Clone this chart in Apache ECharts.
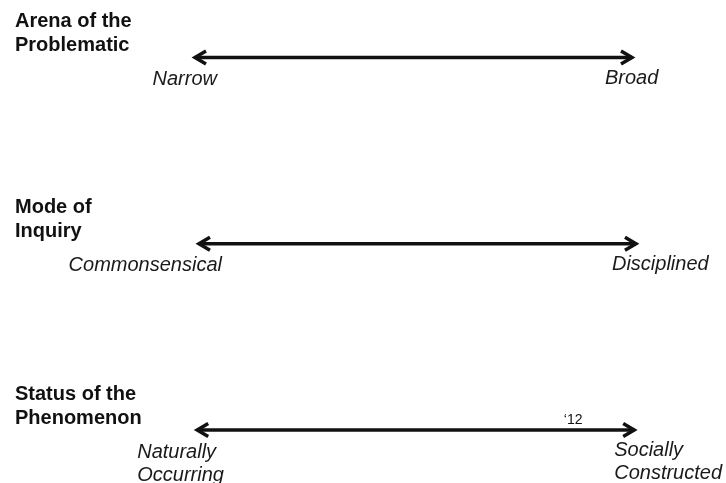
<!DOCTYPE html>
<html>
<head>
<meta charset="utf-8">
<script src="https://cdn.jsdelivr.net/npm/echarts@6/dist/echarts.min.js"></script>
<style>
  html, body { margin: 0; padding: 0; background: #ffffff; }
  #chart { width: 726px; height: 483px; }
</style>
</head>
<body>
<div id="chart"></div>
<script>
// ---- data ----
const rowTitles = ['Arena of the\nProblematic', 'Mode of\nInquiry', 'Status of the\nPhenomenon'];
const leftPoles = ['Narrow', 'Commonsensical', 'Naturally\nOccurring'];
const rightPoles = ['Broad', 'Disciplined', 'Socially\nConstructed'];
const arrowStart = [0, 0.9, 0.5];
const arrowEnd = [100, 100.9, 100.5];
const notes = ['', '', '\u201812'];

// ---- layout (styling only) ----
const leftLabelLayout = [
  { align: 'right', dx: 24 },
  { align: 'right', dx: 25 },
  { align: 'left', dx: -58 }
];
const rightLabelLayout = [
  { align: 'left', dx: -29 },
  { align: 'left', dx: -26 },
  { align: 'left', dx: -22 }
];
const FONT = '"Liberation Sans", Arial, Helvetica, sans-serif';
const INK = '#111111';

const seriesData = rowTitles.map((t, i) => [i, arrowStart[i], arrowEnd[i]]);

const chart = echarts.init(document.getElementById('chart'), null, { renderer: 'canvas' });

const option = {
  animation: false,
  backgroundColor: '#ffffff',
  grid: { left: 193, right: 92, top: 57.5, bottom: 53, containLabel: false },
  xAxis: {
    type: 'value', min: 0, max: 100, show: false
  },
  yAxis: {
    type: 'category',
    data: rowTitles,
    inverse: true,
    boundaryGap: false,
    axisLine: { show: false },
    axisTick: { show: false },
    splitLine: { show: false },
    axisLabel: {
      show: true,
      align: 'left',
      verticalAlign: 'bottom',
      margin: 178,
      fontFamily: FONT,
      fontWeight: 'bold',
      fontSize: 20,
      lineHeight: 24,
      color: INK,
      interval: 0
    }
  },
  series: [{
    type: 'custom',
    data: seriesData,
    encode: { x: [1, 2], y: 0 },
    renderItem: function (params, api) {
      const row = api.value(0);
      const p0 = api.coord([api.value(1), row]);
      const p1 = api.coord([api.value(2), row]);
      const y = p0[1];
      const hl = 13, hh = 6.5;
      const stroke = { stroke: INK, lineWidth: 3.5, fill: null, lineJoin: 'miter', lineCap: 'butt' };
      const children = [
        { type: 'line', shape: { x1: p0[0] + 2, y1: y, x2: p1[0] - 2, y2: y }, style: stroke },
        { type: 'polyline', shape: { points: [[p0[0] + hl, y - hh], [p0[0] + 2, y], [p0[0] + hl, y + hh]] }, style: stroke },
        { type: 'polyline', shape: { points: [[p1[0] - hl, y - hh], [p1[0] - 2, y], [p1[0] - hl, y + hh]] }, style: stroke }
      ];
      const ll = leftLabelLayout[row];
      const rl = rightLabelLayout[row];
      const textBase = { fontFamily: FONT, fontStyle: 'italic', fontSize: 20, lineHeight: 23, fill: '#1a1a1a', verticalAlign: 'top' };
      children.push({
        type: 'text',
        style: Object.assign({}, textBase, { text: leftPoles[row], x: p0[0] + ll.dx, y: y + 10.5, align: ll.align })
      });
      children.push({
        type: 'text',
        style: Object.assign({}, textBase, { text: rightPoles[row], x: p1[0] + rl.dx, y: y + 9, align: rl.align })
      });
      if (notes[row]) {
        children.push({
          type: 'text',
          style: { text: notes[row], x: p1[0] - 63, y: y - 10, align: 'center', verticalAlign: 'middle',
                   fontFamily: FONT, fontSize: 14, fill: INK }
        });
      }
      return { type: 'group', children: children };
    }
  }]
};

chart.setOption(option);
</script>
</body>
</html>
